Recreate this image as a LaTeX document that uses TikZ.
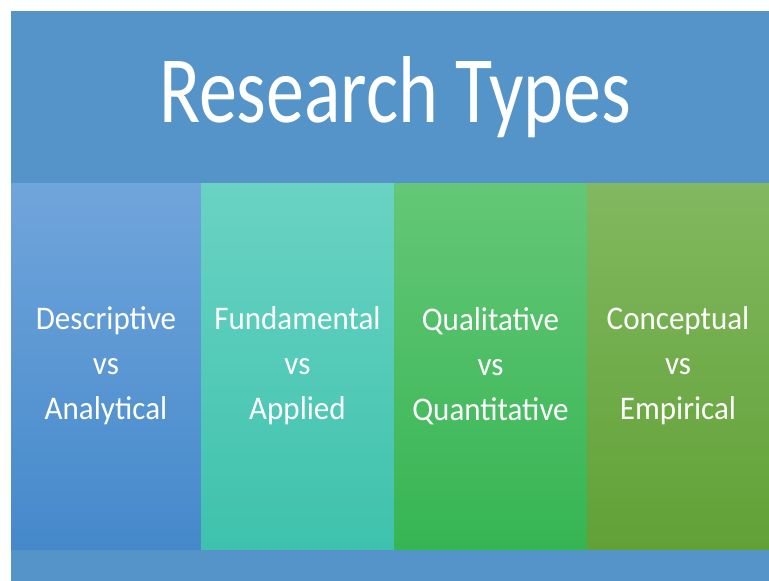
\documentclass[tikz,border=0pt]{standalone}
\usepackage{fontspec}
\setmainfont{Carlito}
\newfontfamily\titlefont[FakeStretch=0.8]{Carlito}
\newfontfamily\colfont[FakeStretch=0.94]{Carlito}
\usetikzlibrary{positioning}

\definecolor{headblue}{RGB}{85,148,201}
\definecolor{blueTop}{RGB}{112,165,219}
\definecolor{blueBot}{RGB}{69,137,203}
\definecolor{tealTop}{RGB}{106,211,195}
\definecolor{tealBot}{RGB}{62,194,173}
\definecolor{greenTop}{RGB}{100,199,119}
\definecolor{greenBot}{RGB}{54,181,83}
\definecolor{oliveTop}{RGB}{130,184,96}
\definecolor{oliveBot}{RGB}{97,161,54}
\tikzset{
  col/.style={rectangle, inner sep=0pt, outer sep=0pt,
    minimum height=366pt, text=white, align=center,
    top color=#1Top, bottom color=#1Bot,
    font=\colfont\fontsize{33}{45}\selectfont},
}

\begin{document}
\begin{tikzpicture}[x=1pt,y=-1pt]
\useasboundingbox (0,0) rectangle (769,581);
% background
\fill [white] (0,0) rectangle (769,581);
\fill [headblue] (11,11) rectangle (769,581);
% heading
\node [text=white, inner sep=0pt, anchor=base,
  font=\titlefont\fontsize{95}{95}\selectfont] (title) at (395,122)
  {Research Types};
% the four columns
\node [col=blue, minimum width=190pt] (descr) at (106,366)
  {Descriptive\\vs\\Analytical};
\node [col=teal, minimum width=193pt, right=0pt of descr] (fund)
  {Fundamental\\vs\\Applied};
\node [col=green, minimum width=193pt, right=0pt of fund] (qual)
  {Qualitative\\vs\\Quantitative};
\node [col=olive, minimum width=182pt, right=0pt of qual] (concept)
  {Conceptual\\vs\\Empirical};
\end{tikzpicture}
\end{document}
